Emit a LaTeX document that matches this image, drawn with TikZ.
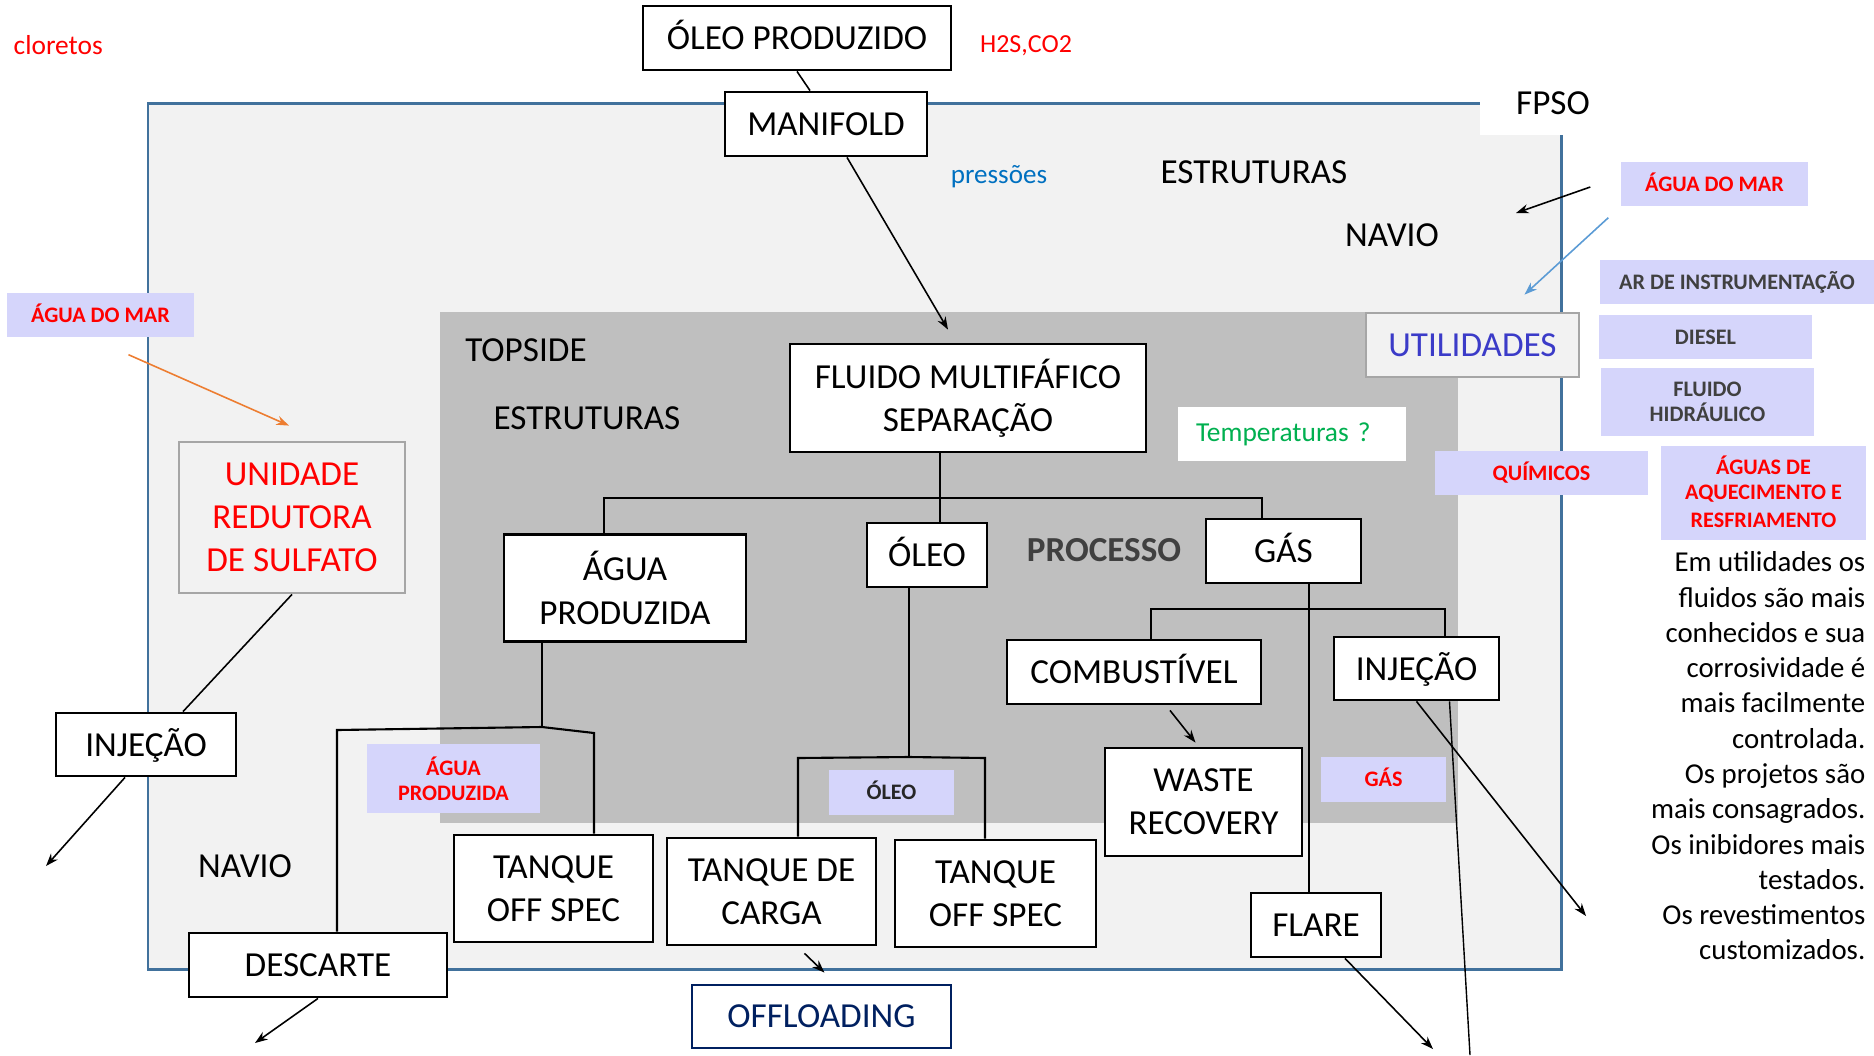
\documentclass[tikz,border=0pt]{standalone}
\usepackage{fontspec}
\setmainfont{Carlito}
\usetikzlibrary{arrows.meta,calc}

\definecolor{fundo}{HTML}{F2F2F2}
\definecolor{topside}{HTML}{BFBFBF}
\definecolor{moldura}{HTML}{41719C}
\definecolor{lilas}{HTML}{D5D5FB}
\definecolor{vermelho}{HTML}{FF0000}
\definecolor{verde}{HTML}{00B050}
\definecolor{azul}{HTML}{0070C0}
\definecolor{azulclaro}{HTML}{5B9BD5}
\definecolor{laranja}{HTML}{ED7D31}
\definecolor{marinho}{HTML}{002060}
\definecolor{roxo}{HTML}{3B3BC8}
\definecolor{cinzaesc}{HTML}{404040}
\definecolor{borda}{HTML}{A6A6A6}

\begin{document}
\begin{tikzpicture}[x=0.1mm, y=-0.1mm, >={Stealth[length=3.6pt,width=2.6pt]},
    caixa/.style={draw, line width=0.8pt, fill=white, inner sep=0pt, align=center,
        font=\fontsize{10}{12.3}\selectfont},
    maiusc/.style={text height=2.3mm, text depth=0pt},
    rotulo/.style={fill=lilas, inner sep=0pt, align=center,
        font=\fontsize{6.3}{7.1}\selectfont\bfseries},
    rotmaiusc/.style={text height=1.43mm, text depth=0pt},
    texto/.style={inner sep=0pt, font=\fontsize{10}{12}\selectfont},
    ramo/.style={line width=0.6pt},
    seta/.style={->, line width=0.45pt}]
    \useasboundingbox (0,0) rectangle (1874,1055);

    % FPSO / topside
    \draw[moldura, line width=0.85pt, fill=fundo] (148,103) rectangle (1561,969);
    \fill[topside] (440,312) rectangle (1458,823);
    \fill[white] (1480,80) rectangle (1610,135);

    \node[texto] (fpso) at (1553,103) {FPSO};
    \node[texto] (estruturasnavio) at (1254,172) {ESTRUTURAS};
    \node[texto] (navio) at (1392,235) {NAVIO};
    \node[texto] (topsidetxt) at (526,350) {TOPSIDE};
    \node[texto] (estruturastop) at (587,418) {ESTRUTURAS};
    \node[texto, text=cinzaesc, font=\fontsize{10}{12}\selectfont\bfseries] (processo) at (1104,550) {PROCESSO};
    \node[texto] (naviobaixo) at (245,866) {NAVIO};
    \node[texto, text=vermelho, font=\fontsize{7.8}{9}\selectfont, anchor=west] (cloretos) at (13,45) {cloretos};
    \node[texto, text=vermelho, font=\fontsize{7.4}{9}\selectfont] (gases) at (1026,46) {H2S,CO2};
    \node[texto, text=azul, font=\fontsize{7.7}{9}\selectfont] (pressoes) at (999,177) {pressões};
    \node[fill=white, text=verde, inner xsep=1.8mm, text width=19.2mm, align=left, minimum height=5.4mm,
        font=\fontsize{7.8}{9}\selectfont] (temperaturas) at (1292,434) {Temperaturas ?};

    \node[caixa, maiusc, minimum width=30.8mm, minimum height=6.4mm] (oleoprod) at (797,38) {ÓLEO PRODUZIDO};
    \node[caixa, minimum width=20.2mm, minimum height=6.4mm] (manifold) at (826,124) {MANIFOLD};
    \node[caixa, minimum width=35.6mm, minimum height=10.8mm] (fluido) at (968,398) {FLUIDO MULTIFÁFICO\\SEPARAÇÃO};
    \node[caixa, minimum width=24.2mm, minimum height=10.7mm] (aguaprod) at (625,588) {ÁGUA\\PRODUZIDA};
    \node[caixa, maiusc, minimum width=12mm, minimum height=6.4mm] (oleo) at (927,555) {ÓLEO};
    \node[caixa, maiusc, minimum width=15.5mm, minimum height=6.4mm] (gas) at (1283.5,551) {GÁS};
    \node[caixa, maiusc, minimum width=25.4mm, minimum height=6.4mm] (combustivel) at (1134,672) {COMBUSTÍVEL};
    \node[caixa, maiusc, minimum width=16.5mm, minimum height=6.3mm] (injecaogas) at (1416.5,668.5) {INJEÇÃO};
    \node[caixa, minimum width=19.7mm, minimum height=10.8mm] (waste) at (1203.5,802) {WASTE\\RECOVERY};
    \node[caixa, minimum width=13mm, minimum height=6.4mm] (flare) at (1316,925) {FLARE};
    \node[caixa, minimum width=19.9mm, minimum height=10.7mm] (offspecagua) at (553.5,888.5) {TANQUE\\OFF SPEC};
    \node[caixa, minimum width=20.9mm, minimum height=10.7mm] (carga) at (771.5,891.5) {TANQUE DE\\CARGA};
    \node[caixa, minimum width=20.1mm, minimum height=10.7mm] (offspecoleo) at (995.5,893.5) {TANQUE\\OFF SPEC};
    \node[caixa, minimum width=25.8mm, minimum height=6.4mm] (descarte) at (318,965) {DESCARTE};
    \node[caixa, maiusc, minimum width=18mm, minimum height=6.3mm] (injecaoagua) at (146,744.5) {INJEÇÃO};
    \node[caixa, draw=marinho, text=marinho, minimum width=25.9mm, minimum height=6.3mm] (offloading) at (821.5,1016.5) {OFFLOADING};
    \node[caixa, draw=borda, fill=fundo, text=vermelho, minimum width=22.6mm, minimum height=15.1mm] (sulfato) at (292,517.5) {UNIDADE\\REDUTORA\\DE SULFATO};
    \node[caixa, draw=borda, fill=fundo, text=roxo, minimum width=21.3mm, minimum height=6.4mm] (utilidades) at (1472.5,345) {UTILIDADES};

    \node[rotulo, rotmaiusc, text=vermelho, minimum width=18.7mm, minimum height=4.4mm] (marutil) at (1714.5,184) {ÁGUA DO MAR};
    \node[rotulo, rotmaiusc, text=cinzaesc, minimum width=27.4mm, minimum height=4.4mm] (ar) at (1737,282) {AR DE INSTRUMENTAÇÃO};
    \node[rotulo, text=cinzaesc, minimum width=21.3mm, minimum height=4.4mm] (diesel) at (1705.5,337) {DIESEL};
    \node[rotulo, text=cinzaesc, minimum width=21.3mm, minimum height=6.8mm] (hidraulico) at (1707.5,402) {FLUIDO\\HIDRÁULICO};
    \node[rotulo, rotmaiusc, text=vermelho, minimum width=21.3mm, minimum height=4.4mm] (quimicos) at (1541.5,473) {QUÍMICOS};
    \node[rotulo, text=vermelho, minimum width=20.5mm, minimum height=9.4mm] (aquecimento) at (1763.5,493)
        {\raisebox{1pt}{\shortstack{ÁGUAS DE\\AQUECIMENTO E\\RESFRIAMENTO}}};
    \node[rotulo, rotmaiusc, text=vermelho, minimum width=18.7mm, minimum height=4.4mm] (marsulfato) at (100.5,315) {ÁGUA DO MAR};
    \node[rotulo, text=vermelho, minimum width=17.3mm, minimum height=6.9mm] (aguaprodrot) at (453.5,778.5) {ÁGUA\\PRODUZIDA};
    \node[rotulo, rotmaiusc, text=black!85, minimum width=12.5mm, minimum height=4.5mm] (oleorot) at (891.5,792.5) {ÓLEO};
    \node[rotulo, rotmaiusc, text=vermelho, minimum width=12.5mm, minimum height=4.5mm] (gasrot) at (1383.5,779.5) {GÁS};

    \node[texto, anchor=east, align=right, font=\fontsize{8.2}{10.04}\selectfont] (nota) at (1866,756)
        {Em utilidades os\\fluidos são mais\\conhecidos e sua\\corrosividade é\\mais facilmente\\controlada.\\
         Os projetos são\\mais consagrados.\\Os inibidores mais\\testados.\\Os revestimentos\\customizados.};

    % ramificacoes
    \coordinate (jf) at (940,498);
    \coordinate (jfa) at (604,498);
    \coordinate (jfg) at (1262,498);
    \draw[ramo] (fluido.south -| jf) -- (jf) -- (oleo.north -| jf);
    \draw[ramo] (aguaprod.north -| jfa) -- (jfa) -- (jfg) -- (gas.north -| jfg);

    \coordinate (ja) at (542,727);
    \coordinate (jad) at (337,730);
    \coordinate (jat) at (594,733);
    \draw[ramo] (aguaprod.south -| ja) -- (ja);
    \draw[ramo] (descarte.north -| jad) -- (jad) -- (ja) -- (jat) -- (offspecagua.north -| jat);

    \coordinate (jo) at (909,757);
    \coordinate (joc) at (798,758);
    \coordinate (joo) at (985,758);
    \draw[ramo] (oleo.south -| jo) -- (jo);
    \draw[ramo] (carga.north -| joc) -- (joc) -- (jo) -- (joo) -- (offspecoleo.north -| joo);

    \coordinate (jg) at (1309,609);
    \coordinate (jgc) at (1151,609);
    \coordinate (jgi) at (1445,609);
    \draw[ramo] (gas.south -| jg) -- (jg) -- (flare.north -| jg);
    \draw[ramo] (combustivel.north -| jgc) -- (jgc) -- (jgi) -- (injecaogas.north -| jgi);

    % setas
    \coordinate (fiminj) at (1586,916);
    \coordinate (fimlinha) at (1470,1055);
    \coordinate (fimflare) at (1433,1049);
    \coordinate (fimdescarte) at (255,1043);
    \coordinate (fiminjagua) at (46,866);
    \coordinate (fimmar) at (1516,213);
    \draw[line width=0.45pt] (oleoprod.south) -- ($(manifold.north)+(-16,0)$);
    \draw[seta] ($(manifold.south)+(21,0)$) -- ($(fluido.north)+(-20,-13)$);
    \draw[seta] ($(combustivel.south)+(36,5)$) -- ($(waste.north)+(-8,-4)$);
    \draw[seta] (injecaogas.south) -- (fiminj);
    \draw[line width=0.4pt] ($(injecaogas.south)+(33,0)$) -- (fimlinha);
    \draw[seta] ($(flare.south)+(29,0)$) -- (fimflare);
    \draw[seta] ($(carga.south)+(33,7)$) -- ($(offloading.north)+(3,-11)$);
    \draw[seta] (descarte.south) -- (fimdescarte);
    \draw[line width=0.45pt] (sulfato.south) -- ($(injecaoagua.north)+(37,0)$);
    \draw[seta] ($(injecaoagua.south)+(-21,0)$) -- (fiminjagua);
    \draw[seta, laranja] ($(marsulfato.south)+(28,17)$) -- ($(sulfato.north)+(-3,-15)$);
    \draw[seta] ($(marutil.west)+(-30,3)$) -- (fimmar);
    \draw[seta, azulclaro] ($(marutil.south west)+(-12,11)$) -- ($(utilidades.north)+(52,-17)$);
\end{tikzpicture}
\end{document}
